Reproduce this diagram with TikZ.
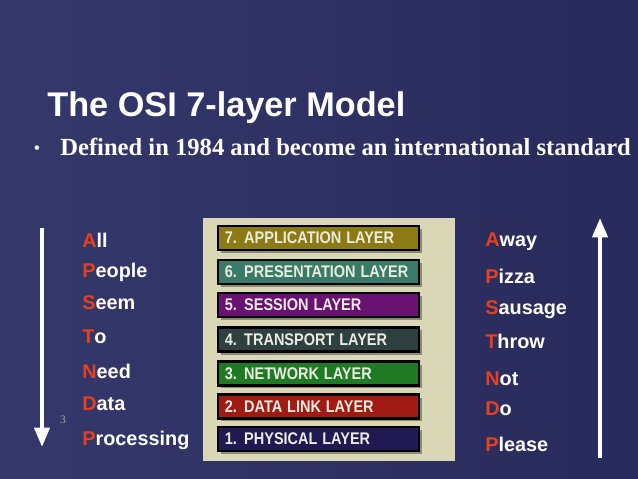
\documentclass[tikz,border=0pt]{standalone}
\usepackage{fontspec}
\setmainfont{Liberation Serif}
\newfontfamily\arialfont{Liberation Sans}
\usetikzlibrary{arrows.meta}

\definecolor{bgnavy}{HTML}{282A5B}
\definecolor{bglight}{HTML}{35386B}
\definecolor{panelbeige}{HTML}{D9D7B6}
\definecolor{mnemred}{HTML}{E6401E}
\definecolor{bartext}{HTML}{ECEBE2}
\definecolor{appcol}{HTML}{8C7A12}
\definecolor{prescol}{HTML}{3A7B68}
\definecolor{sesscol}{HTML}{6A1272}
\definecolor{transcol}{HTML}{2F4041}
\definecolor{netcol}{HTML}{1F7A24}
\definecolor{linkcol}{HTML}{A01B12}
\definecolor{physcol}{HTML}{211952}

\tikzset{
  layerbar/.style={draw=black, line width=1.2pt, minimum width=201*0.567pt,
    minimum height=24*0.567pt, inner sep=0pt, text=bartext,
    font=\arialfont\bfseries\fontsize{9.6}{10}\selectfont, text width=188*0.567pt, align=left},
  mnemword/.style={anchor=base west, text=white, inner sep=0pt,
    font=\arialfont\bfseries\fontsize{11.3}{12}\selectfont},
  mnemarrow/.style={white, line width=2.3pt, -{Triangle[width=8.5pt,length=11pt]}}
}
\newcommand{\rl}[1]{\textcolor{mnemred}{#1}}
\newcommand{\barlabel}[1]{\scalebox{0.86}[1]{#1}}

\begin{document}
\begin{tikzpicture}[x=0.02cm, y=-0.02cm]

    % --- Background ---
    \useasboundingbox (0,0) rectangle (638,479);
    \shade[left color=bglight, right color=bgnavy] (0,0) rectangle (638,479);

    % --- Title and bullet ---
    \node[anchor=base west, inner sep=0pt, text=white,
          font=\arialfont\bfseries\fontsize{19.5}{21}\selectfont] (title) at (47,117) {The OSI 7-layer Model};
    \node[anchor=base, inner sep=0pt, text=white!85!gray,
          font=\fontsize{11}{12}\selectfont] (bullet) at (37,155) {\textbullet};
    \node[anchor=base west, inner sep=0pt, text=white,
          font=\bfseries\fontsize{14}{15}\selectfont] (subtitle) at (60,156) {Defined in 1984 and become an international standard};

    % --- Layer panel ---
    \fill[panelbeige] (203,218) rectangle (455,461);

    % Soft shadows under the bars
    \fill[black, opacity=0.35] (221,229) rectangle (422,253);
    \fill[black, opacity=0.35] (221,263) rectangle (422,287);
    \fill[black, opacity=0.35] (221,296) rectangle (422,320);
    \fill[black, opacity=0.35] (221,330) rectangle (422,355);
    \fill[black, opacity=0.35] (221,365) rectangle (422,388);
    \fill[black, opacity=0.35] (221,398) rectangle (422,421);
    \fill[black, opacity=0.35] (221,430) rectangle (422,454);

    % The seven layers, top to bottom
    \node[layerbar, fill=appcol]   (app)   at (318.5,238)   {\barlabel{7. APPLICATION LAYER}};
    \node[layerbar, fill=prescol]  (pres)  at (318.5,272)   {\barlabel{6. PRESENTATION LAYER}};
    \node[layerbar, fill=sesscol]  (sess)  at (318.5,305)   {\barlabel{5. SESSION LAYER}};
    \node[layerbar, fill=transcol] (trans) at (318.5,339.5) {\barlabel{4. TRANSPORT LAYER}};
    \node[layerbar, fill=netcol]   (net)   at (318.5,373.5) {\barlabel{3. NETWORK LAYER}};
    \node[layerbar, fill=linkcol]  (link)  at (318.5,406.5) {\barlabel{2. DATA LINK LAYER}};
    \node[layerbar, fill=physcol]  (phys)  at (318.5,439)   {\barlabel{1. PHYSICAL LAYER}};

    % --- Left mnemonic (top to bottom) ---
    \node[mnemword] (all)    at (82,248) {\rl{A}ll};
    \node[mnemword] (people) at (82,277) {\rl{P}eople};
    \node[mnemword] (seem)   at (82,309) {\rl{S}eem};
    \node[mnemword] (to)     at (82,343) {\rl{T}o};
    \node[mnemword] (need)   at (82,378) {\rl{N}eed};
    \node[mnemword] (data)   at (82,410) {\rl{D}ata};
    \node[mnemword] (proc)   at (82,445) {\rl{P}rocessing};

    % --- Right mnemonic (bottom to top) ---
    \node[mnemword] (away)    at (485,247) {\rl{A}way};
    \node[mnemword] (pizza)   at (485,283) {\rl{P}izza};
    \node[mnemword] (sausage) at (485,314) {\rl{S}ausage};
    \node[mnemword] (throw)   at (485,348) {\rl{T}hrow};
    \node[mnemword] (not)     at (485,385) {\rl{N}ot};
    \node[mnemword] (do)      at (485,415) {\rl{D}o};
    \node[mnemword] (please)  at (485,451) {\rl{P}lease};

    % --- Direction arrows ---
    \coordinate (Ltop) at (42,228);
    \coordinate (Lbot) at (42,447);
    \coordinate (Rbot) at (600,458);
    \coordinate (Rtop) at (600,218);
    \draw[mnemarrow] (Ltop) -- (Lbot);
    \draw[mnemarrow] (Rbot) -- (Rtop);

    % Slide number
    \node[text=gray!70, inner sep=0pt, font=\fontsize{6.5}{7}\selectfont] (pagenum) at (63,420) {3};

\end{tikzpicture}
\end{document}
